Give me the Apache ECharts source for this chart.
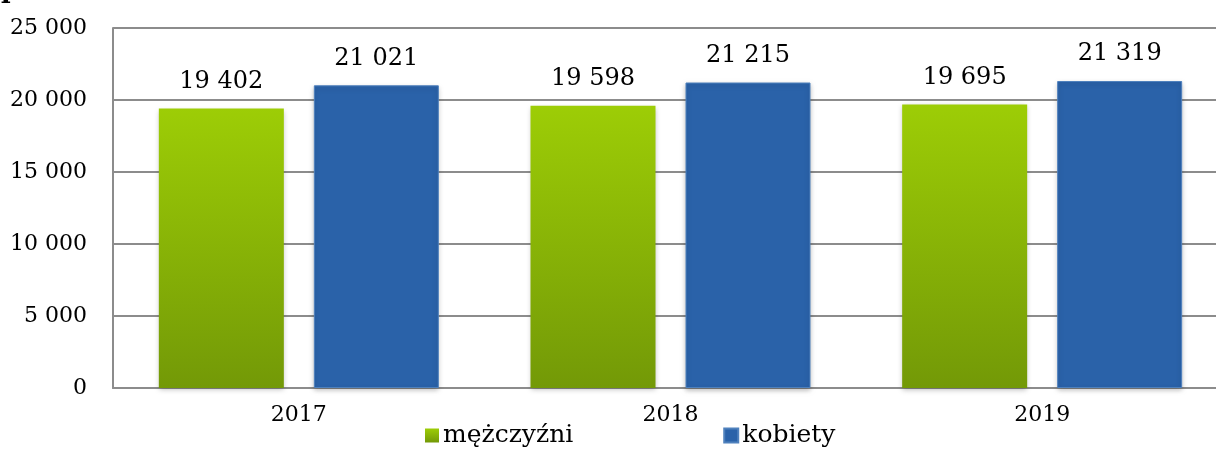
<!DOCTYPE html>
<html>
<head>
<meta charset="utf-8">
<script src="https://cdn.jsdelivr.net/npm/echarts@6/dist/echarts.min.js"></script>
<style>
  html, body { margin: 0; padding: 0; background: #fff; }
  #chart { width: 1216px; height: 455px; }
</style>
</head>
<body>
<div id="chart"></div>
<script>
// dane
const years = ['2017', '2018', '2019'];
const mezczyzni = [19402, 19598, 19695];
const kobiety = [21021, 21215, 21319];
const seriesNames = ['mężczyźni', 'kobiety'];

const font = 'DejaVu Serif';
const fmt = v => String(v).replace(/\B(?=(\d{3})+(?!\d))/g, ' ');

let chart = echarts.init(document.getElementById('chart'));
chart.setOption({
    animation: false,
    textStyle: { fontFamily: font },
    graphic: [{
        type: 'text',
        left: 1,
        top: -22,
        style: { text: 'p', font: 'bold 26px ' + font, fill: '#000' }
    }],
    legend: {
        left: 420,
        bottom: 2,
        itemWidth: 14,
        itemHeight: 14,
        itemGap: 150,
        textStyle: { fontSize: 25, color: '#000', fontFamily: font, padding: [0, 0, 0, -1] },
        data: seriesNames.map(n => ({ name: n, icon: 'rect' }))
    },
    grid: { left: 113, right: -12, top: 28, bottom: 67, outerBoundsMode: 'none', containLabel: false },
    xAxis: {
        type: 'category',
        data: years,
        axisLine: { lineStyle: { color: '#8c8c8c', width: 2 } },
        axisTick: { show: false },
        axisLabel: { fontSize: 22, color: '#000', margin: 16, fontFamily: font }
    },
    yAxis: {
        type: 'value',
        min: 0,
        max: 25000,
        interval: 5000,
        axisLine: { show: true, lineStyle: { color: '#8c8c8c', width: 2 } },
        axisTick: { show: false },
        splitLine: { lineStyle: { color: '#8c8c8c', width: 2 } },
        axisLabel: { fontSize: 22, color: '#000', margin: 26, formatter: fmt, fontFamily: font }
    },
    series: [
        {
            name: seriesNames[0],
            type: 'bar',
            data: mezczyzni,
            barWidth: 125,
            barGap: '24%',
            itemStyle: {
                color: new echarts.graphic.LinearGradient(0, 0, 0, 1, [
                    { offset: 0, color: '#9dcd06' },
                    { offset: 1, color: '#739907' }
                ]),
                shadowColor: 'rgba(0,0,0,0.25)',
                shadowBlur: 5,
                shadowOffsetY: 2
            },
            label: {
                show: true, position: 'top', distance: 15, fontSize: 24, color: '#000',
                fontFamily: font, formatter: p => fmt(p.value)
            }
        },
        {
            name: seriesNames[1],
            type: 'bar',
            data: kobiety,
            barWidth: 125,
            itemStyle: {
                color: '#2a62a9',
                borderColor: '#4f81bd',
                borderWidth: 1,
                shadowColor: 'rgba(0,0,0,0.25)',
                shadowBlur: 5,
                shadowOffsetY: 2
            },
            label: {
                show: true, position: 'top', distance: 15, fontSize: 24, color: '#000',
                fontFamily: font, formatter: p => fmt(p.value)
            }
        }
    ]
});
window.addEventListener('resize', () => chart.resize());
</script>
</body>
</html>
